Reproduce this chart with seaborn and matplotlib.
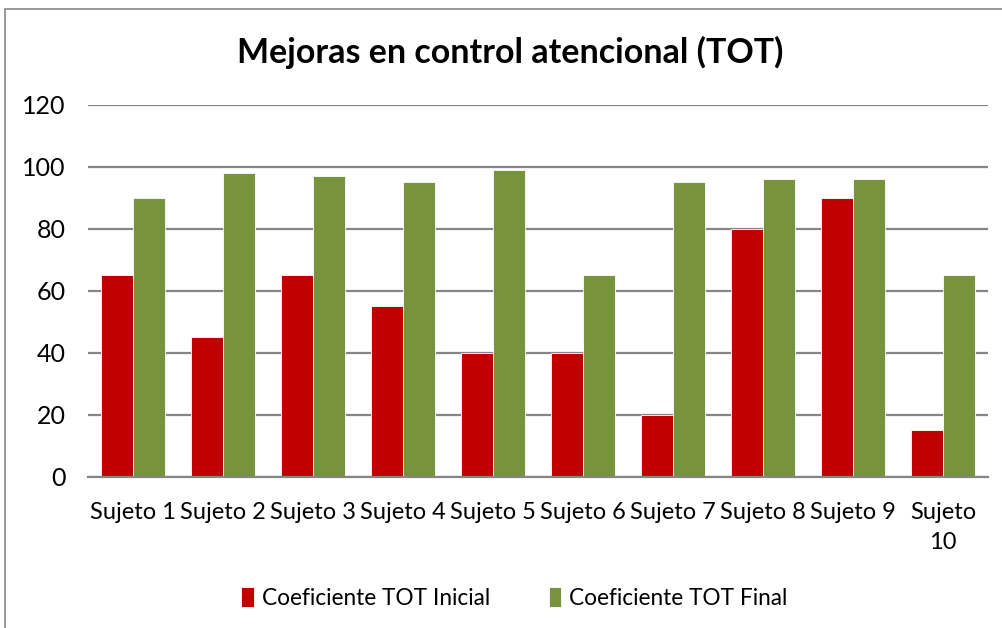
import pandas as pd
import seaborn as sns
import matplotlib.pyplot as plt
from matplotlib.patches import Rectangle

# data
sujetos = ["Sujeto 1", "Sujeto 2", "Sujeto 3", "Sujeto 4", "Sujeto 5",
           "Sujeto 6", "Sujeto 7", "Sujeto 8", "Sujeto 9", "Sujeto\n10"]
tot_inicial = [65, 45, 65, 55, 40, 40, 20, 80, 90, 15]
tot_final = [90, 98, 97, 95, 99, 65, 95, 96, 96, 65]
series = ["Coeficiente TOT Inicial", "Coeficiente TOT Final"]
colores = ["#C00000", "#77933C"]

df = pd.DataFrame({
    "sujeto": sujetos * 2,
    "valor": tot_inicial + tot_final,
    "serie": [series[0]] * len(sujetos) + [series[1]] * len(sujetos),
})

sns.set_theme(style="white")
plt.rcParams['font.family'] = ['Lato', 'DejaVu Sans']
plt.rcParams['text.color'] = 'black'

fig = plt.figure(figsize=(10.02, 6.28), dpi=100)
ax = fig.add_axes([0.0878, 0.2409, 0.8982, 0.5924])

sns.barplot(data=df, x="sujeto", y="valor", hue="serie", palette=colores,
            width=0.71, ax=ax, edgecolor="white", linewidth=0.6, saturation=1)

ax.set_ylim(0, 120)
ax.set_xlim(-0.5, len(sujetos) - 0.5)
ax.set_yticks(range(0, 121, 20))
ax.yaxis.grid(True, color="#868686", linewidth=1.6)
ax.set_axisbelow(True)
for s in ["top", "right", "left"]:
    ax.spines[s].set_visible(False)
ax.spines["bottom"].set_color("#868686")
ax.spines["bottom"].set_linewidth(1.6)
ax.tick_params(axis="both", length=0, colors="black")
ax.tick_params(axis="y", labelsize=18, pad=16)
ax.tick_params(axis="x", labelsize=17, pad=18)
for lbl in ax.get_xticklabels():
    lbl.set_linespacing(1.55)
ax.set_xlabel("")
ax.set_ylabel("")

fig.text(0.509, 0.917, "Mejoras en control atencional (TOT)", fontsize=24.5,
         fontweight="bold", ha="center", va="center", color="black")

ax.legend(loc="center", bbox_to_anchor=(0.474, -0.325), ncol=2,
          frameon=False, fontsize=16.3, handlelength=0.55, handleheight=1.0,
          handletextpad=0.35, columnspacing=2.6)

# chart area border
fig.patches.append(Rectangle((5 / 1002, -0.1), 1.2, 1 - 9 / 628 + 0.1,
                             transform=fig.transFigure, fill=False,
                             edgecolor="#868686", linewidth=1.2))

fig.savefig("out.png", dpi=100)
